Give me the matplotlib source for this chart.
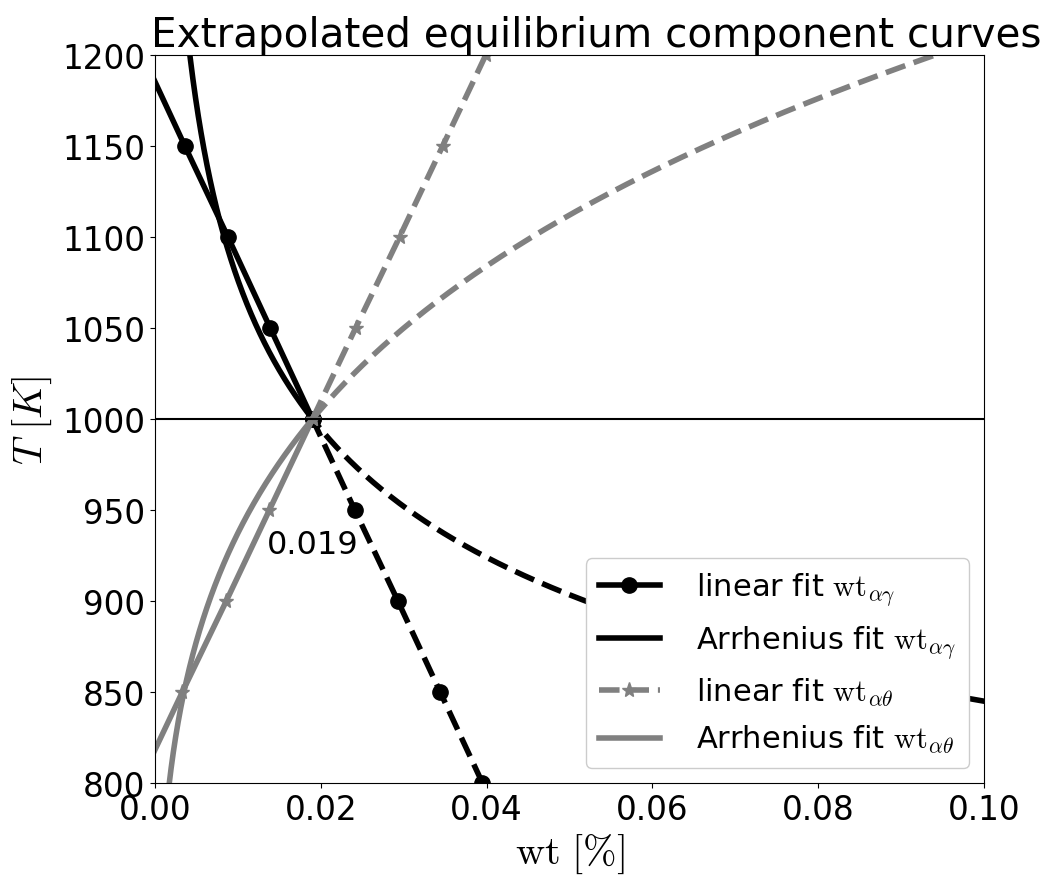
import numpy as np
import matplotlib
matplotlib.use("Agg")
import matplotlib.pyplot as plt

plt.rcParams["mathtext.fontset"] = "cm"

# Temperatures of the tabulated linear-fit points [K]
T_pts = [800, 850, 900, 950, 1000, 1050, 1100, 1150, 1200]
# Linear fit of the alpha/gamma equilibrium composition [wt %]
wt_ag_lin = [0.0395, 0.0344, 0.0293, 0.0241, 0.0190, 0.0139, 0.0088, 0.0036, -0.0015]
# Linear fit of the alpha/theta equilibrium composition [wt %]
wt_at_lin = [-0.0019, 0.0033, 0.0086, 0.0138, 0.0190, 0.0242, 0.0295, 0.0347, 0.0399]

# Arrhenius fit parameters: wt = wt_ref * exp(+-Q/R * (1/T - 1/T_ref))
T_ref = 1000.0
wt_ref = 0.019
Q_over_R_ag = 9050.0
Q_over_R_at = 9600.0

T_pts = np.array(T_pts, dtype=float)
wt_ag_lin = np.array(wt_ag_lin)
wt_at_lin = np.array(wt_at_lin)

T_lo = np.linspace(780, T_ref, 400)
T_hi = np.linspace(T_ref, 1220, 400)


def arr_ag(T):
    return wt_ref * np.exp(Q_over_R_ag * (1.0 / T - 1.0 / T_ref))


def arr_at(T):
    return wt_ref * np.exp(-Q_over_R_at * (1.0 / T - 1.0 / T_ref))


fig = plt.figure(figsize=(10.45, 8.79), dpi=100)
ax = fig.add_axes([155 / 1045, 1 - 784 / 879, (984 - 155) / 1045, (784 - 56) / 879])

lw = 4
gray = "#808080"
hi = T_pts >= T_ref
lo = T_pts <= T_ref

# alpha/gamma: solid above the reference temperature, dashed below
ax.plot(wt_ag_lin[hi], T_pts[hi], color="k", lw=lw, marker="o", ms=11,
        label=r"linear fit $\mathrm{wt}_{\alpha\gamma}$")
ax.plot(wt_ag_lin[lo], T_pts[lo], color="k", lw=lw, ls="--", marker="o", ms=11)
ax.plot(arr_ag(T_hi), T_hi, color="k", lw=lw,
        label=r"Arrhenius fit $\mathrm{wt}_{\alpha\gamma}$")
ax.plot(arr_ag(T_lo), T_lo, color="k", lw=lw, ls="--")

# alpha/theta: solid below the reference temperature, dashed above
ax.plot(wt_at_lin[hi], T_pts[hi], color=gray, lw=lw, ls="--", marker="*", ms=11,
        label=r"linear fit $\mathrm{wt}_{\alpha\theta}$")
ax.plot(wt_at_lin[lo], T_pts[lo], color=gray, lw=lw, marker="*", ms=11)
ax.plot(arr_at(T_lo), T_lo, color=gray, lw=lw,
        label=r"Arrhenius fit $\mathrm{wt}_{\alpha\theta}$")
ax.plot(arr_at(T_hi), T_hi, color=gray, lw=lw, ls="--")

ax.axhline(T_ref, color="k", lw=1.5)
ax.text(wt_ref, 931, f"{wt_ref:.3f}", fontsize=23, ha="center", va="center")

ax.set_xlim(0, 0.1)
ax.set_ylim(800, 1200)
ax.set_xticks(np.arange(0, 0.1001, 0.02))
ax.set_yticks(np.arange(800, 1201, 50))
ax.tick_params(labelsize=23.5)
ax.set_xlabel(r"$\mathrm{wt}\ [\%]$", fontsize=29)
ax.set_ylabel(r"$T\ [K]$", fontsize=29, labelpad=6)
ax.set_title("Extrapolated equilibrium component curves", fontsize=29.2, x=0.532)
ax.legend(loc="lower right", fontsize=22, framealpha=1, handletextpad=1.2)

fig.savefig("out.png", dpi=100)
